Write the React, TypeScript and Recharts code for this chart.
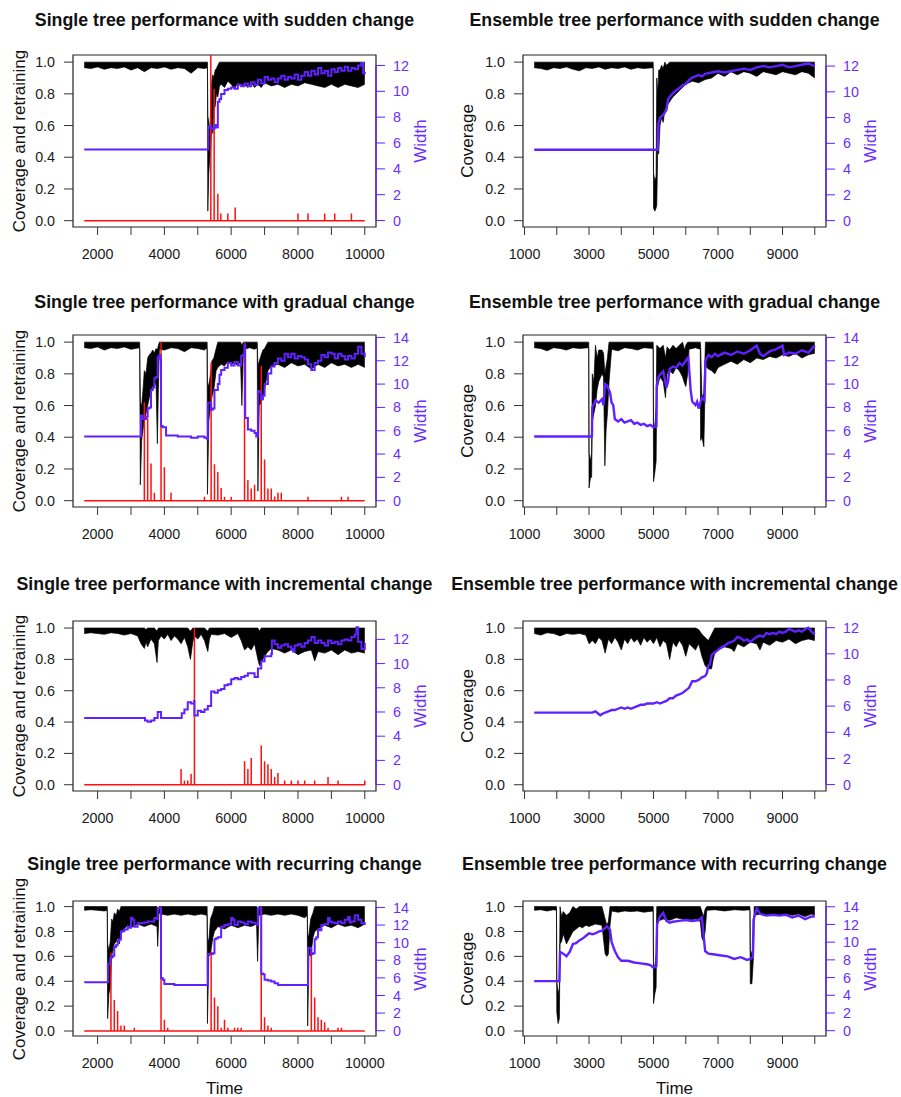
import React from "react";
import { ComposedChart, Area, Line, XAxis, YAxis, ReferenceArea, ReferenceLine } from "recharts";

const FONT = '"Liberation Sans", Arial, Helvetica, sans-serif';
const PURPLE = "#6020ff";
const PURPLE_TXT = "#6a2eff";
const RED = "#ff1010";

// axis ticks
const singleTicks = [2000, 3000, 4000, 5000, 6000, 7000, 8000, 9000, 10000];
const ensembleTicks = [1000, 2000, 3000, 4000, 5000, 6000, 7000, 8000, 9000, 10000];
const covTicks = [0, 0.2, 0.4, 0.6, 0.8, 1];
const wTicks12 = [0, 2, 4, 6, 8, 10, 12];
const wTicks14 = [0, 2, 4, 6, 8, 10, 12, 14];

// ---- single tree, sudden change ----
const ssCovT = [1600, 1800, 2000, 2200, 2400, 2600, 2800, 3000, 3200, 3400, 3600, 3800, 4000, 4200, 4400, 4600, 4800, 5000, 5200,
  5290, 5300, 5330, 5360, 5390, 5420, 5450, 5480, 5520, 5560, 5600, 5650, 5700,
  5800, 5900, 6000, 6100, 6200, 6300, 6400, 6500, 6600, 6700, 6800, 6900, 7000,
  7200, 7400, 7600, 7800, 8000, 8200, 8400, 8600, 8800, 9000, 9200, 9400, 9600, 9800, 10000];
const ssCovLo = [.965, .96, .97, .955, .965, .96, .97, .95, .965, .94, .965, .96, .97, .955, .965, .96, .93, .965, .96,
  .965, .06, .30, .40, .45, .62, .55, .70, .72, .80, .78, .85, .86,
  .84, .88, .86, .83, .87, .85, .86, .84, .87, .84, .86, .84, .87,
  .85, .86, .84, .86, .85, .87, .86, .85, .84, .86, .84, .86, .85, .84, .86];
const ssCovHi = [1, 1, 1, 1, 1, 1, 1, 1, 1, 1, 1, 1, 1, 1, 1, 1, 1, 1, 1,
  1, .66, .62, .55, .75, .88, .92, .90, .95, .96, .98, 1, 1,
  1, 1, 1, 1, 1, 1, 1, 1, 1, 1, 1, 1, 1,
  1, 1, 1, 1, 1, 1, 1, 1, 1, 1, 1, 1, 1, 1, 1];
const ssWidT = [1600, 5300, 5310, 5400, 5500, 5550, 5600, 5650, 5700,
  5800, 5900, 6000, 6100, 6200, 6300, 6400, 6500, 6600, 6700, 6800, 6900, 7000, 7100, 7200, 7300, 7400, 7500, 7600, 7700,
  7800, 7900, 8000, 8100, 8200, 8300, 8400, 8500, 8600, 8700, 8800, 8900, 9000, 9100, 9200, 9300, 9400, 9500, 9600, 9700,
  9800, 9900, 9950, 10000];
const ssWid = [5.5, 5.5, 7.3, 7.1, 7.4, 7.2, 9.2, 9.4, 9.8,
  10.1, 10.2, 10.3, 10.2, 10.5, 10.4, 10.6, 10.4, 10.7, 10.5, 10.9, 10.6, 11.1, 10.9, 11.0, 10.7, 11.0, 11.2, 10.9, 11.1,
  11.0, 11.3, 10.9, 11.2, 11.5, 11.2, 11.6, 11.3, 11.8, 11.4, 11.6, 11.2, 11.7, 11.5, 11.8, 11.6, 11.9, 11.6, 11.8, 11.7,
  12.0, 12.2, 11.4, 11.5];
const ssRetT = [5390, 5490, 5600, 5690, 5900, 6120, 8000, 8300, 8800, 9100, 9600];
const ssRetH = [1.1, 0.83, 0.17, 0.045, 0.045, 0.083, 0.045, 0.045, 0.045, 0.045, 0.045];

// ---- ensemble tree, sudden change ----
const esCovT = [1300, 1500, 1700, 1900, 2100, 2300, 2500, 2700, 2900, 3100, 3300, 3500, 3700, 3900, 4100, 4300, 4500, 4700, 4990,
  5000, 5040, 5080, 5100, 5130, 5160, 5200, 5250, 5300, 5350, 5400,
  5500, 5600, 5700, 5800, 5900, 6000,
  6200, 6400, 6600, 6800, 7000, 7200, 7400, 7600, 7800, 8000, 8200, 8400, 8600, 8800, 9000, 9200, 9400, 9600, 9800, 10000];
const esCovLo = [.965, .96, .95, .965, .96, .97, .955, .945, .965, .96, .97, .955, .965, .96, .97, .955, .965, .96, .965,
  .08, .06, .08, .10, .45, .42, .60, .65, .62, .70, .72,
  .75, .78, .80, .82, .84, .86,
  .88, .87, .89, .90, .93, .91, .94, .92, .94, .93, .91, .94, .93, .92, .94, .93, .92, .94, .93, .90];
const esCovHi = [1, 1, 1, 1, 1, 1, 1, 1, 1, 1, 1, 1, 1, 1, 1, 1, 1, 1, 1,
  .30, .25, .28, .90, .80, .95, .95, .98, .96, 1, .98,
  1, 1, 1, 1, 1, 1,
  1, 1, 1, 1, 1, 1, 1, 1, 1, 1, 1, 1, 1, 1, 1, 1, 1, 1, 1, 1];
const esWidT = [1300, 5130, 5150, 5200, 5300, 5400, 5450,
  5500, 5600, 5700, 5800, 5900, 6000, 6100, 6200, 6300, 6400, 6500, 6600,
  6800, 7000, 7200, 7400, 7600, 7800, 8000, 8200, 8400, 8600, 8800, 9000, 9200, 9400, 9600, 9800, 10000];
const esWid = [5.5, 5.5, 7.5, 8.0, 8.2, 8.6, 9.4,
  9.6, 9.9, 10.1, 10.3, 10.5, 10.6, 10.9, 11.1, 11.2, 11.3, 11.2, 11.4,
  11.5, 11.6, 11.5, 11.6, 11.7, 11.8, 11.7, 11.9, 12.0, 11.9, 12.0, 12.1, 11.9, 12.0, 12.1, 12.2, 12.0];

// ---- single tree, gradual change ----
const sgCovT = [1600, 1800, 2000, 2200, 2400, 2600, 2800, 3000, 3260,
  3280, 3320, 3360, 3400, 3450, 3500, 3550, 3600, 3650, 3700, 3750, 3790, 3820, 3850,
  4000, 4200, 4400, 4600, 4800, 5000, 5200, 5280,
  5290, 5330, 5380, 5420, 5480, 5550, 5600, 5700, 5800, 5900, 6000, 6100, 6200, 6280, 6320, 6360, 6400, 6550, 6700, 6780,
  6800, 6840, 6900, 6950, 7000, 7100, 7200,
  7400, 7600, 7800, 8000, 8200, 8400, 8600, 8800, 9000, 9200, 9400, 9600, 9800, 10000];
const sgCovLo = [.965, .96, .97, .95, .965, .96, .97, .955, .965,
  .10, .38, .45, .50, .55, .60, .65, .68, .70, .72, .75, .36, .70, .955,
  .95, .965, .96, .94, .965, .96, .95, .965,
  .04, .50, .60, .65, .70, .82, .84, .86, .85, .88, .86, .87, .85, .88, .60, .90, .955, .965, .955, .965,
  .06, .60, .62, .65, .70, .82, .85,
  .86, .84, .87, .85, .86, .83, .86, .84, .87, .85, .86, .84, .86, .84];
const sgCovHi = [1, 1, 1, 1, 1, 1, 1, 1, 1,
  .62, .60, .70, .82, .80, .90, .92, .93, .95, .93, .96, .95, .98, 1,
  1, 1, 1, 1, 1, 1, 1, 1,
  .75, .72, .80, .88, .90, .96, 1, 1, 1, 1, 1, 1, 1, 1, .98, 1, 1, 1, 1, 1,
  .85, .88, .92, .95, .96, 1, 1,
  1, 1, 1, 1, 1, 1, 1, 1, 1, 1, 1, 1, 1, 1];
const sgWidT = [1600, 3290, 3300, 3350, 3450, 3500, 3550, 3600, 3650, 3700,
  3750, 3800, 3850, 3880, 3900, 3950, 4050, 4200, 4400, 4600,
  4800, 5000, 5200, 5280, 5300, 5400, 5450, 5500, 5600, 5650,
  5700, 5800, 5900, 6000, 6100, 6200, 6300, 6350, 6400, 6420,
  6500, 6600, 6700, 6750, 6800, 6850, 6900, 6950, 7000, 7100,
  7200, 7300, 7400, 7500, 7600, 7700, 7800, 7900, 8000, 8100, 8200, 8300, 8400, 8500,
  8600, 8700, 8800, 8900, 9000, 9100, 9200, 9300, 9400, 9500, 9600, 9700, 9800, 9900, 10000];
const sgWid = [5.5, 5.5, 7.3, 7.0, 7.2, 7.9, 8.0, 9.5, 9.7, 10.5,
  10.6, 12.3, 12.5, 12.2, 6.4, 6.3, 5.6, 5.6, 5.5, 5.5,
  5.4, 5.5, 5.4, 5.3, 8.4, 7.8, 7.9, 9.5, 10.0, 10.8,
  11.2, 11.4, 11.8, 11.6, 11.9, 11.6, 12.4, 12.5, 13.4, 7.1,
  6.1, 6.0, 5.8, 5.5, 9.4, 9.3, 8.7, 9.0, 10.0, 10.9,
  11.5, 11.8, 12.2, 12.0, 12.6, 12.3, 12.6, 12.2, 12.4, 12.3, 12.1, 11.7, 11.2, 11.8,
  12.0, 12.5, 12.3, 12.7, 12.6, 12.2, 12.6, 12.4, 12.1, 12.4, 12.2, 12.6, 13.2, 12.6, 12.3];
const sgRetT = [3400, 3500, 3600, 3700, 3900, 4000, 4200, 5200, 5400, 5500, 5600, 5700, 5800, 6000,
  6400, 6500, 6600, 6700, 6900, 7000, 7100, 7200, 7300, 7400, 7500, 8300, 9300, 9500];
const sgRetH = [0.62, 0.52, 0.235, 0.05, 1.0, 0.21, 0.05, 0.025, 0.87, 0.23, 0.18, 0.08, 0.025, 0.025,
  1.0, 0.13, 0.077, 0.1, 0.85, 0.26, 0.077, 0.077, 0.027, 0.05, 0.05, 0.025, 0.025, 0.025];

// ---- ensemble tree, gradual change ----
const egCovT = [1300, 1500, 1700, 1900, 2100, 2300, 2500, 2700, 2990,
  3000, 3040, 3080, 3100, 3150, 3200, 3250, 3300, 3400, 3450, 3490, 3530, 3570, 3620,
  3700, 3900, 4100, 4300, 4500, 4700, 4990,
  5000, 5040, 5080, 5100, 5200, 5300, 5370, 5420, 5500, 5600, 5700, 5800, 5900, 5960, 6000, 6060, 6100, 6300, 6450,
  6460, 6500, 6560, 6610, 6700, 6800, 6900, 7000,
  7200, 7400, 7600, 7800, 8000, 8200, 8400, 8600, 8800, 9000, 9200, 9400, 9600, 9800, 10000];
const egCovLo = [.965, .96, .945, .965, .96, .95, .965, .96, .965,
  .08, .14, .15, .50, .55, .60, .70, .75, .80, .78, .22, .45, .55, .75,
  .955, .945, .965, .96, .95, .965, .96,
  .12, .18, .25, .70, .78, .75, .65, .80, .82, .80, .84, .82, .78, .74, .72, .80, .955, .965, .955,
  .38, .40, .34, .85, .83, .82, .80, .84,
  .86, .88, .86, .89, .87, .90, .89, .91, .90, .92, .91, .93, .90, .92, .93];
const egCovHi = [1, 1, 1, 1, 1, 1, 1, 1, 1,
  .30, .25, .30, .80, .75, .98, .90, .95, .95, .93, .80, .85, .90, 1,
  1, 1, 1, 1, 1, 1, 1,
  .50, .45, .60, .98, .96, .98, .90, .97, .95, .98, .96, .98, 1, .95, .98, 1, 1, 1, 1,
  .98, .65, .68, 1, 1, 1, 1, 1,
  1, 1, 1, 1, 1, 1, 1, 1, 1, 1, 1, 1, 1, 1, 1];
const egWidT = [1300, 3090, 3100, 3150, 3200, 3300, 3400, 3450, 3500, 3550,
  3600, 3650, 3700, 3750, 3800, 3900, 4000, 4100, 4200, 4300,
  4400, 4500, 4600, 4700, 4800, 4900, 5000, 5090, 5100, 5150,
  5200, 5300, 5400, 5450, 5500, 5600, 5700, 5800, 5900, 6000,
  6080, 6150, 6200, 6300, 6350, 6400, 6450, 6500, 6580, 6610,
  6700, 6800, 6900, 7000, 7200, 7400, 7600, 7800, 8000, 8200,
  8300, 8400, 8600, 8800, 9000, 9050, 9200, 9400, 9600, 9800, 10000];
const egWid = [5.5, 5.5, 8.0, 8.3, 8.6, 8.4, 8.7, 8.2, 10.0, 9.9,
  9.6, 9.3, 8.4, 8.2, 7.0, 6.8, 7.0, 6.7, 6.8, 6.9,
  6.6, 6.7, 6.5, 6.6, 6.4, 6.5, 6.3, 6.4, 9.8, 10.6,
  10.8, 11.1, 9.7, 10.2, 11.3, 11.5, 11.4, 11.8, 11.6, 12.0,
  12.3, 9.5, 8.5, 8.2, 8.5, 7.9, 8.4, 8.8, 8.6, 12.0,
  12.5, 12.3, 12.6, 12.4, 12.7, 12.5, 12.8, 12.6, 12.9, 13.3,
  12.6, 12.4, 12.8, 13.0, 13.3, 12.5, 12.7, 12.6, 12.9, 12.7, 13.3];

// ---- single tree, incremental change ----
const siCovT = [1600, 1800, 2000, 2200, 2400, 2600, 2800, 3000, 3200,
  3300, 3400, 3450, 3500, 3600, 3700, 3780, 3820, 3900,
  4000, 4100, 4200, 4300, 4400, 4500, 4600, 4700,
  4780, 4850, 4900, 5000, 5100, 5200, 5300, 5350, 5400,
  5600, 5800, 6000, 6200,
  6300, 6400, 6500, 6600, 6700, 6800, 6850, 6900, 7000, 7100, 7200,
  7400, 7600, 7800, 8000, 8200, 8400, 8500, 8600, 8800, 9000, 9200, 9400, 9600, 9800, 10000];
const siCovLo = [.965, .97, .965, .96, .97, .965, .955, .965, .95,
  .90, .87, .91, .88, .93, .90, .78, .92, .95,
  .93, .96, .92, .95, .93, .90, .94, .88,
  .80, .91, .95, .93, .96, .92, .85, .93, .96,
  .955, .965, .94, .965,
  .92, .86, .88, .86, .90, .80, .76, .78, .82, .85, .87,
  .86, .84, .86, .83, .85, .86, .79, .85, .84, .86, .83, .86, .84, .85, .84];
const siCovHi = [1, 1, 1, 1, 1, 1, 1, 1, 1,
  1, 1, .99, 1, 1, 1, .98, 1, 1,
  1, 1, 1, 1, 1, 1, 1, 1,
  .98, 1, 1, 1, 1, 1, .98, 1, 1,
  1, 1, 1, 1,
  1, 1, 1, 1, 1, 1, .98, 1, 1, 1, 1,
  1, 1, 1, 1, 1, 1, 1, 1, 1, 1, 1, 1, 1, 1, 1];
const siWidT = [1600, 3400, 3420, 3500, 3600, 3700, 3780, 3800, 3880, 3900,
  4500, 4520, 4600, 4700, 4800, 4890, 4900, 5000, 5100, 5200,
  5300, 5400, 5500, 5600, 5700, 5800, 5900, 6000, 6100, 6200,
  6300, 6400, 6500, 6600, 6700, 6800, 6900, 7000, 7100, 7200,
  7220, 7300, 7400, 7500, 7600, 7700, 7800, 7850, 7900, 8000,
  8100, 8200, 8300, 8400, 8500, 8600, 8700, 8800, 8900, 9000,
  9100, 9200, 9300, 9400, 9500, 9600, 9700, 9750, 9800, 9900, 10000];
const siWid = [5.5, 5.5, 5.3, 5.2, 5.3, 5.5, 5.5, 6.0, 6.0, 5.5,
  5.5, 5.9, 6.2, 6.8, 6.7, 6.9, 5.7, 6.1, 6.0, 6.2,
  6.5, 7.7, 7.6, 7.8, 7.9, 8.2, 8.3, 8.7, 8.8, 8.7,
  8.9, 9.0, 9.2, 9.2, 8.9, 9.6, 10.2, 10.6, 10.6, 10.8,
  11.9, 11.6, 11.3, 11.5, 11.6, 11.4, 11.2, 11.0, 11.5, 11.6,
  11.4, 11.7, 11.9, 12.2, 11.7, 11.9, 11.7, 11.5, 11.9, 11.7,
  11.8, 11.6, 11.9, 12.0, 11.9, 12.2, 12.4, 13.0, 11.8, 11.2, 11.7];
const siRetT = [4500, 4600, 4700, 4800, 4900, 6400, 6500, 6600, 6900, 7000, 7100, 7200, 7300, 7400,
  7600, 7800, 8000, 8200, 8500, 8900, 9200, 10000];
const siRetH = [0.1, 0.027, 0.027, 0.07, 1.0, 0.15, 0.1, 0.17, 0.25, 0.15, 0.13, 0.1, 0.05, 0.075,
  0.027, 0.027, 0.027, 0.027, 0.027, 0.05, 0.027, 0.027];

// ---- ensemble tree, incremental change ----
const eiCovT = [1300, 1500, 1700, 1900, 2100, 2300, 2500, 2700, 2900,
  3000, 3100, 3200, 3300, 3400, 3500, 3600, 3700, 3800, 3900, 4000, 4100, 4200, 4300, 4400, 4500, 4600,
  4700, 4800, 4900, 5000, 5100, 5200, 5300, 5400, 5500, 5600, 5700, 5800, 5900, 6000, 6100, 6200, 6300,
  6400, 6500, 6600, 6700, 6800, 6850, 6900, 7000,
  7200, 7400, 7500, 7600, 7800, 8000, 8200, 8300, 8400, 8600, 8800, 9000, 9200, 9400, 9600, 9800, 10000];
const eiCovLo = [.965, .955, .97, .965, .95, .965, .96, .965, .955,
  .90, .92, .90, .94, .92, .84, .93, .90, .94, .91, .86, .93, .90, .94, .91, .93, .89,
  .94, .91, .93, .90, .94, .88, .92, .90, .80, .91, .88, .92, .89, .82, .90, .88, .86,
  .90, .82, .76, .74, .74, .80, .84, .86,
  .88, .87, .85, .90, .88, .91, .90, .86, .91, .89, .92, .91, .93, .90, .92, .93, .92];
const eiCovHi = [1, 1, 1, 1, 1, 1, 1, 1, 1,
  1, 1, 1, 1, 1, 1, 1, 1, 1, 1, 1, 1, 1, 1, 1, 1, 1,
  1, 1, 1, 1, 1, 1, 1, 1, 1, 1, 1, 1, 1, 1, 1, 1, 1,
  .99, .96, .94, .92, .96, .98, 1, 1,
  1, 1, 1, 1, 1, 1, 1, 1, 1, 1, 1, 1, 1, 1, 1, 1, 1];
const eiWidT = [1300, 3100, 3200, 3300, 3350,
  3400, 3500, 3600, 3700, 3800, 3900, 4000, 4100, 4200, 4300,
  4400, 4500, 4600, 4700, 4800, 4900, 5000, 5100, 5200, 5300,
  5400, 5500, 5600, 5700, 5800, 5900, 6000, 6100, 6200, 6300,
  6400, 6500, 6600, 6650, 6700, 6750, 6800,
  6900, 7000, 7100, 7200, 7300, 7400, 7500, 7600, 7700, 7800,
  7900, 8000, 8100, 8200, 8300, 8400, 8500, 8600, 8700, 8800,
  8900, 9000, 9100, 9200, 9300, 9400, 9500, 9600, 9700, 9800, 9900, 10000];
const eiWid = [5.5, 5.5, 5.6, 5.4, 5.3,
  5.4, 5.5, 5.6, 5.7, 5.7, 5.8, 5.9, 5.8, 5.9, 5.8,
  5.9, 6.0, 6.1, 6.1, 6.2, 6.2, 6.2, 6.3, 6.2, 6.3,
  6.4, 6.6, 6.6, 6.8, 6.9, 7.0, 7.2, 7.4, 7.9, 7.9,
  8.0, 8.2, 8.3, 8.5, 9.1, 9.2, 9.9,
  10.1, 10.3, 10.5, 10.6, 10.8, 10.9, 11.0, 11.3, 11.2, 11.0,
  11.1, 10.9, 11.1, 11.3, 11.4, 11.3, 11.6, 11.5, 11.6, 11.5,
  11.7, 11.6, 11.7, 11.9, 11.8, 11.7, 11.8, 11.7, 11.9, 12.0, 11.7, 11.5];

// ---- single tree, recurring change ----
const srCovT = [1600, 1800, 2000, 2200, 2290,
  2300, 2340, 2380, 2420, 2460, 2500, 2560, 2600, 2650, 2700, 2800, 2900, 3000, 3200, 3400, 3600, 3780, 3800, 3840,
  3900, 4100, 4300, 4500, 4700, 4900, 5100, 5280,
  5290, 5330, 5380, 5450, 5500, 5600, 5800, 6000, 6200, 6400, 6600, 6760, 6790, 6830,
  7000, 7200, 7400, 7600, 7800, 8000, 8200, 8280,
  8290, 8330, 8380, 8450, 8500, 8600, 8800, 9000, 9200, 9400, 9600, 9800, 10000];
const srCovLo = [.97, .975, .97, .965, .97,
  .10, .30, .35, .60, .65, .70, .72, .75, .70, .78, .82, .85, .83, .86, .84, .86, .84, .68, .95,
  .94, .93, .94, .93, .94, .93, .94, .93,
  .06, .60, .62, .75, .80, .84, .82, .85, .83, .85, .84, .86, .56, .93,
  .94, .93, .94, .93, .94, .93, .91, .93,
  .04, .62, .60, .75, .80, .82, .85, .83, .86, .84, .85, .83, .86];
const srCovHi = [1, 1, 1, 1, 1,
  .70, .65, .72, .90, .88, .95, .93, .98, .96, 1, 1, 1, 1, 1, 1, 1, 1, .96, 1,
  1, 1, 1, 1, 1, 1, 1, 1,
  .75, .72, .90, .95, 1, 1, 1, 1, 1, 1, 1, 1, .98, 1,
  1, 1, 1, 1, 1, 1, 1, 1,
  .75, .78, .90, .95, 1, 1, 1, 1, 1, 1, 1, 1, 1];
const srWidT = [1600, 2300, 2310, 2380, 2400, 2450, 2500, 2550, 2600, 2650,
  2700, 2800, 2900, 2950, 3000, 3050, 3100, 3200, 3300, 3400,
  3500, 3600, 3700, 3780, 3800, 3880, 3900, 3950, 4000, 4100,
  4300, 5280, 5300, 5400, 5450, 5500, 5550, 5600, 5700, 5800,
  5900, 6000, 6050, 6100, 6200, 6300, 6400, 6500, 6600, 6700,
  6780, 6800, 6880, 6900, 6950, 7000, 7100, 7200, 7300, 7400,
  8280, 8300, 8380, 8400, 8450, 8500, 8550, 8600, 8650, 8700,
  8800, 8900, 8950, 9000, 9100, 9200, 9300, 9400, 9500, 9550,
  9600, 9700, 9800, 9900, 10000];
const srWid = [5.5, 5.5, 7.6, 8.2, 8.3, 8.5, 9.5, 9.7, 10.2, 10.4,
  11.3, 11.5, 11.8, 11.7, 12.8, 12.6, 11.8, 12.2, 12.2, 12.3,
  12.4, 12.4, 12.8, 12.7, 13.9, 13.9, 6.0, 5.8, 5.3, 5.3,
  5.2, 5.2, 8.7, 8.7, 8.8, 10.4, 10.5, 10.6, 11.8, 12.0,
  12.1, 12.8, 12.6, 12.0, 12.4, 12.3, 12.1, 12.4, 12.3, 12.2,
  12.0, 13.9, 13.9, 6.5, 6.4, 5.8, 5.7, 5.6, 5.4, 5.2,
  5.2, 9.4, 9.3, 8.7, 8.8, 10.4, 10.6, 11.5, 11.4, 12.0,
  12.1, 12.8, 12.4, 12.3, 12.2, 12.4, 12.2, 12.6, 12.9, 12.3,
  12.4, 13.1, 12.6, 12.2, 12.0];
const srRetT = [2400, 2500, 2600, 2700, 2800, 3100, 3900, 4000, 4100, 5400, 5500, 5600, 5700, 5800, 5900,
  6100, 6200, 6300, 6900, 7000, 7100, 7200, 8400, 8500, 8600, 8700, 8800, 8900, 9200, 9300];
const srRetH = [0.63, 0.25, 0.16, 0.045, 0.045, 0.027, 1.0, 0.09, 0.027, 0.64, 0.27, 0.2, 0.027, 0.09, 0.027,
  0.027, 0.027, 0.027, 1.0, 0.11, 0.045, 0.027, 0.65, 0.27, 0.11, 0.09, 0.07, 0.027, 0.027, 0.027];

// ---- ensemble tree, recurring change ----
const erCovT = [1300, 1500, 1700, 1900, 1990,
  2000, 2040, 2080, 2100, 2150, 2200, 2300, 2400, 2500, 2600, 2700, 2800, 2900, 3000, 3200, 3400, 3500, 3550, 3600, 3650,
  3700, 3900, 4100, 4300, 4500, 4700, 4990,
  5000, 5040, 5080, 5100, 5300, 5500, 5700, 5900, 6100, 6300, 6450, 6500, 6550, 6600,
  6650, 6900, 7200, 7500, 7800, 7990,
  8000, 8050, 8100, 8120, 8300, 8500, 8700, 8900, 9100, 9300, 9500, 9700, 9900, 10000];
const erCovLo = [.97, .975, .965, .975, .97,
  .15, .06, .10, .70, .72, .78, .70, .75, .80, .82, .84, .83, .85, .84, .86, .85, .62, .60, .62, .85,
  .965, .955, .965, .96, .965, .955, .965,
  .22, .30, .35, .88, .90, .89, .91, .90, .89, .90, .88, .75, .72, .80,
  .97, .975, .965, .975, .97, .975,
  .38, .38, .60, .93, .94, .93, .94, .93, .94, .93, .94, .92, .94, .93];
const erCovHi = [1, 1, 1, 1, 1,
  .40, .30, .35, 1, .92, .96, .93, .95, 1, .98, 1, 1, 1, 1, 1, 1, .90, .85, .88, 1,
  1, 1, 1, 1, 1, 1, 1,
  .55, .50, .62, 1, 1, 1, 1, 1, 1, 1, 1, .96, .92, .98,
  1, 1, 1, 1, 1, 1,
  .65, .62, .70, 1, 1, 1, 1, 1, 1, 1, 1, 1, 1, 1];
const erWidT = [1300, 2080, 2100, 2200, 2300, 2400, 2500, 2600, 2700, 2800,
  2900, 3000, 3100, 3200, 3300, 3400, 3500, 3550, 3650, 3700,
  3800, 3900, 4000, 4200, 4400, 4600, 4800, 4900, 5000, 5090,
  5110, 5200, 5300, 5400, 5500, 5600, 5800, 6000, 6200, 6400,
  6500, 6600, 6700, 6900, 7100, 7300, 7500, 7700, 7900, 8000,
  8080, 8100, 8200, 8300, 8500, 8700, 8900, 9100, 9300, 9500,
  9700, 9900, 10000];
const erWid = [5.6, 5.6, 8.9, 8.7, 8.4, 8.9, 9.8, 9.9, 10.2, 10.4,
  10.7, 11.0, 10.9, 11.0, 11.2, 11.3, 11.6, 11.8, 11.4, 10.0,
  9.0, 8.3, 7.9, 7.9, 7.7, 7.6, 7.5, 7.4, 7.1, 7.3,
  12.0, 12.9, 13.3, 12.4, 12.2, 12.3, 12.4, 12.5, 12.4, 12.5,
  12.8, 9.0, 8.7, 8.6, 8.5, 8.4, 8.1, 8.3, 8.0, 8.1,
  8.3, 12.5, 13.8, 13.2, 13.0, 13.1, 13.0, 13.1, 12.8, 13.0,
  12.6, 12.9, 12.9];

// layout
const COLS = [
  { x0: 73, x1: 376, xDomain: [1264, 10336], ticks: singleTicks, labelRem: 0, yTitle: "Coverage and retraining", yTitleX: 19 },
  { x0: 523, x1: 826, xDomain: [952, 10348], ticks: ensembleTicks, labelRem: 1000, yTitle: "Coverage", yTitleX: 467 },
];
const ROWS = [
  { y0: 55, y1: 227, titleY: 21 },
  { y0: 335, y1: 507, titleY: 303 },
  { y0: 621, y1: 791, titleY: 585 },
  { y0: 901, y1: 1036, titleY: 865 },
];
const Y_DOMAIN = [-0.04, 1.045];

const PANELS = [
  { title: "Single tree performance with sudden change", col: 0, row: 0, covT: ssCovT, covLo: ssCovLo, covHi: ssCovHi,
    widT: ssWidT, wid: ssWid, retT: ssRetT, retH: ssRetH, wDomain: [-0.5, 12.81], wTicks: wTicks12 },
  { title: "Ensemble tree performance with sudden change", col: 1, row: 0, covT: esCovT, covLo: esCovLo, covHi: esCovHi,
    widT: esWidT, wid: esWid, wDomain: [-0.5, 12.86], wTicks: wTicks12 },
  { title: "Single tree performance with gradual change", col: 0, row: 1, covT: sgCovT, covLo: sgCovLo, covHi: sgCovHi,
    widT: sgWidT, wid: sgWid, retT: sgRetT, retH: sgRetH, wDomain: [-0.54, 14.21], wTicks: wTicks14 },
  { title: "Ensemble tree performance with gradual change", col: 1, row: 1, covT: egCovT, covLo: egCovLo, covHi: egCovHi,
    widT: egWidT, wid: egWid, wDomain: [-0.54, 14.21], wTicks: wTicks14 },
  { title: "Single tree performance with incremental change", col: 0, row: 2, covT: siCovT, covLo: siCovLo, covHi: siCovHi,
    widT: siWidT, wid: siWid, retT: siRetT, retH: siRetH, wDomain: [-0.53, 13.52], wTicks: wTicks12 },
  { title: "Ensemble tree performance with incremental change", col: 1, row: 2, covT: eiCovT, covLo: eiCovLo, covHi: eiCovHi,
    widT: eiWidT, wid: eiWid, wDomain: [-0.49, 12.51], wTicks: wTicks12 },
  { title: "Single tree performance with recurring change", col: 0, row: 3, covT: srCovT, covLo: srCovLo, covHi: srCovHi,
    widT: srWidT, wid: srWid, retT: srRetT, retH: srRetH, wDomain: [-0.6, 14.73], wTicks: wTicks14 },
  { title: "Ensemble tree performance with recurring change", col: 1, row: 3, covT: erCovT, covLo: erCovLo, covHi: erCovHi,
    widT: erWidT, wid: erWid, wDomain: [-0.6, 14.65], wTicks: wTicks14 },
];

const tickFont = { fontFamily: FONT, fontSize: 14.3 };

function Panel({ p }: { p: any }) {
  const col = COLS[p.col];
  const row = ROWS[p.row];
  const LW = 70, RW = 65, TOP = 12, XH = 40;
  const w = col.x1 - col.x0 + LW + RW;
  const h = row.y1 - row.y0 + TOP + XH;
  const single = p.col === 0;

  const cov = p.covT.map((t: number, i: number) => ({ t, band: [p.covLo[i], p.covHi[i]] }));
  const wid = p.widT.map((t: number, i: number) => ({ t, w: p.wid[i] }));
  const ret: any[] = [];
  if (p.retT) {
    ret.push({ t: p.covT[0], r: 0 });
    p.retT.forEach((t: number, i: number) => {
      ret.push({ t, r: 0 }, { t, r: p.retH[i] }, { t, r: 0 });
    });
    ret.push({ t: 10000, r: 0 });
  }
  const [xa, xb] = col.xDomain;
  const wTop = p.wTicks[p.wTicks.length - 1];
  const cy = (row.y0 + row.y1) / 2;
  const cx = (col.x0 + col.x1) / 2;

  return (
    <>
      <div style={{ position: "absolute", left: col.x0 - LW, top: row.y0 - TOP }}>
        <ComposedChart width={w} height={h} margin={{ top: TOP, right: 0, bottom: 0, left: 0 }}>
          <XAxis type="number" dataKey="t" domain={col.xDomain} allowDataOverflow ticks={col.ticks} interval={0}
            tickFormatter={(v: number) => (v % 2000 === col.labelRem ? String(v) : "")}
            axisLine={false} tickLine={{ stroke: "#333" }} tickSize={8} tickMargin={14}
            height={XH} tick={{ ...tickFont, fill: "#1a1a1a" }} />
          <YAxis yAxisId="c" type="number" domain={Y_DOMAIN} allowDataOverflow ticks={covTicks} interval={0}
            tickFormatter={(v: number) => v.toFixed(1)} width={LW} axisLine={false}
            tickLine={{ stroke: "#333" }} tickSize={9} tickMargin={9} tick={{ ...tickFont, fill: "#1a1a1a" }} />
          <YAxis yAxisId="w" orientation="right" type="number" domain={p.wDomain} allowDataOverflow ticks={p.wTicks}
            interval={0} width={RW} axisLine={false} tickLine={{ stroke: PURPLE }} tickSize={9} tickMargin={8}
            tick={{ ...tickFont, fill: PURPLE_TXT }} />
          <Area yAxisId="c" data={cov} dataKey="band" type="linear" stroke="#000" strokeWidth={0.7}
            fill="#000" fillOpacity={1} isAnimationActive={false} dot={false} activeDot={false} />
          {p.retT && (
            <Line yAxisId="c" data={ret} dataKey="r" type="linear" stroke={RED} strokeWidth={1.5}
              dot={false} activeDot={false} isAnimationActive={false} />
          )}
          <Line yAxisId="w" data={wid} dataKey="w" type={single ? "stepAfter" : "linear"} stroke={PURPLE}
            strokeWidth={single ? 2 : 2.4} dot={false} activeDot={false} isAnimationActive={false} />
          <ReferenceArea yAxisId="c" x1={xa} x2={xb} y1={Y_DOMAIN[0]} y2={Y_DOMAIN[1]} fill="none"
            fillOpacity={0} stroke="#222" strokeWidth={1.2} ifOverflow="visible" />
          <ReferenceLine yAxisId="w" segment={[{ x: xb, y: 0 }, { x: xb, y: wTop }]} stroke={PURPLE}
            strokeWidth={1.3} ifOverflow="visible" />
        </ComposedChart>
      </div>
      <div style={{ position: "absolute", left: cx, top: row.titleY, transform: "translate(-50%, -50%)",
        fontWeight: "bold", fontSize: 17.8, lineHeight: 1, whiteSpace: "nowrap", color: "#111" }}>
        {p.title}
      </div>
      <div style={{ position: "absolute", left: col.yTitleX, top: cy, transform: "translate(-50%, -50%) rotate(-90deg)",
        fontSize: 17, lineHeight: 1, whiteSpace: "nowrap", color: "#111" }}>
        {col.yTitle}
      </div>
      <div style={{ position: "absolute", left: col.x1 + 44, top: cy, transform: "translate(-50%, -50%) rotate(-90deg)",
        fontSize: 17, lineHeight: 1, whiteSpace: "nowrap", color: PURPLE_TXT }}>
        Width
      </div>
      {p.row === 3 && (
        <div style={{ position: "absolute", left: cx, top: 1088, transform: "translate(-50%, -50%)",
          fontSize: 17, lineHeight: 1, whiteSpace: "nowrap", color: "#111" }}>
          Time
        </div>
      )}
    </>
  );
}

export default function App() {
  return (
    <div style={{ position: "absolute", left: 0, top: 0, width: 901, height: 1097, background: "#fff",
      fontFamily: FONT, overflow: "hidden" }}>
      {PANELS.map((p) => (
        <Panel key={p.title} p={p} />
      ))}
    </div>
  );
}
